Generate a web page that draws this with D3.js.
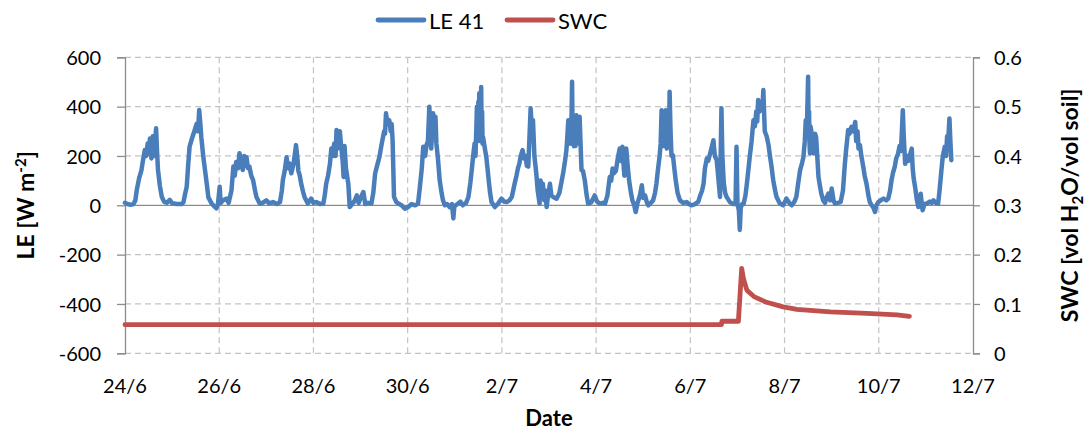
<!DOCTYPE html>
<html>
<head>
<meta charset="utf-8">
<script src="https://cdn.jsdelivr.net/npm/d3@7"></script>
<style>
  html, body { margin: 0; padding: 0; background: #fff; }
  svg text { font-family: Lato, "Open Sans", sans-serif; fill: #000; }
</style>
</head>
<body>
<svg id="chart" width="1089" height="433"></svg>
<script>
// Date ticks every two days, starting 24 June (x values are days since 24/6 00:00)
const dateTicks = [0, 2, 4, 6, 8, 10, 12, 14, 16, 18];
const dateLabels = ["24/6", "26/6", "28/6", "30/6", "2/7", "4/7", "6/7", "8/7", "10/7", "12/7"];
const leTicks = [-600, -400, -200, 0, 200, 400, 600];
const swcTicks = [0, 0.1, 0.2, 0.3, 0.4, 0.5, 0.6];

// Latent heat flux, LE 41 [W m-2]: [day, value]
const le41 = [
  [0.00, 10], [0.05, 5], [0.12, 2], [0.18, 5], [0.22, 20], [0.25, 62], [0.30, 110], [0.35, 143], [0.38, 180], [0.42, 224],
  [0.45, 200], [0.48, 250], [0.50, 210], [0.53, 271], [0.56, 190], [0.59, 280], [0.62, 200], [0.66, 312], [0.68, 220], [0.70, 143],
  [0.74, 80], [0.78, 35], [0.83, 15], [0.885, 10], [0.95, 22], [1.00, 8], [1.10, 5], [1.20, 5],
  [1.24, 12], [1.28, 50], [1.31, 75], [1.34, 160], [1.37, 237], [1.42, 270], [1.48, 305], [1.52, 330], [1.55, 300], [1.575, 386],
  [1.60, 330], [1.62, 276], [1.66, 200], [1.70, 140], [1.74, 80], [1.77, 32], [1.84, 7], [1.91, -7], [1.94, -12], [1.97, 0],
  [2.01, 75], [2.03, 10], [2.08, 20], [2.15, 27], [2.20, 10], [2.26, 60],
  [2.30, 157], [2.33, 120], [2.36, 176], [2.40, 150], [2.43, 211], [2.46, 180], [2.50, 143], [2.53, 200], [2.56, 160], [2.58, 195],
  [2.61, 150], [2.64, 157], [2.68, 120], [2.72, 101], [2.76, 60], [2.79, 34], [2.86, 7], [2.92, 10], [3.00, 20], [3.06, 8],
  [3.14, 13], [3.22, 5], [3.29, 13],
  [3.33, 60], [3.35, 101], [3.39, 140], [3.43, 195], [3.46, 150], [3.49, 170], [3.53, 130], [3.58, 170], [3.63, 244], [3.66, 190],
  [3.68, 140], [3.71, 120], [3.74, 87], [3.78, 55], [3.81, 34], [3.88, 7], [3.95, 27], [4.00, 10], [4.06, 13], [4.14, 5], [4.21, 7],
  [4.24, 40], [4.27, 87], [4.31, 120], [4.35, 168], [4.38, 230], [4.41, 200], [4.44, 250], [4.47, 200], [4.49, 305], [4.51, 230],
  [4.54, 240], [4.56, 300], [4.59, 236], [4.62, 180], [4.64, 115], [4.66, 240], [4.69, 150], [4.74, 87], [4.77, -7], [4.83, 7],
  [4.88, 20], [4.92, 40], [4.96, 10], [5.00, 30], [5.06, 54], [5.10, 5], [5.16, 10], [5.23, 7],
  [5.27, 50], [5.31, 130], [5.35, 160], [5.40, 195], [5.44, 240], [5.47, 270], [5.50, 300], [5.52, 290], [5.54, 373], [5.57, 330],
  [5.61, 345], [5.64, 300], [5.66, 330], [5.68, 265], [5.71, 34], [5.76, 13], [5.82, 5], [5.87, 0], [5.94, -14], [6.01, -7],
  [6.08, 5], [6.16, 0], [6.22, 7],
  [6.26, 75], [6.30, 150], [6.33, 237], [6.37, 200], [6.40, 244], [6.43, 260], [6.46, 400], [6.48, 300], [6.50, 230], [6.52, 300],
  [6.54, 373], [6.56, 300], [6.59, 359], [6.61, 250], [6.64, 195], [6.68, 101], [6.72, 50], [6.75, 20], [6.79, 0], [6.84, 5],
  [6.89, -7], [6.94, 5], [6.97, -53], [6.99, -5], [7.07, 7], [7.12, 15], [7.17, 0], [7.24, 10], [7.29, 34],
  [7.33, 90], [7.36, 143], [7.39, 200], [7.42, 250], [7.44, 200], [7.46, 330], [7.47, 400], [7.48, 260], [7.49, 300], [7.50, 420],
  [7.51, 280], [7.52, 454], [7.53, 300], [7.54, 350], [7.55, 260], [7.56, 480], [7.57, 300], [7.58, 380], [7.59, 250], [7.60, 276],
  [7.63, 240], [7.67, 195], [7.70, 140], [7.72, 101], [7.75, 50], [7.78, 13], [7.85, -7], [7.92, 7],
  [7.99, 27], [8.05, 15], [8.10, 13], [8.16, 20], [8.21, 34],
  [8.24, 60], [8.27, 87], [8.31, 120], [8.34, 150], [8.37, 168], [8.40, 200], [8.44, 224], [8.47, 190], [8.50, 200], [8.53, 160],
  [8.56, 157], [8.58, 250], [8.61, 393], [8.64, 300], [8.66, 345], [8.69, 200], [8.73, 130], [8.76, 60], [8.80, 7], [8.82, 101],
  [8.85, 60], [8.87, 87], [8.90, 20], [8.92, 60], [8.95, -7], [8.98, 40], [9.02, 87], [9.05, 40], [9.09, 34], [9.16, 27],
  [9.22, 50], [9.26, 90],
  [9.30, 130], [9.34, 180], [9.37, 224], [9.39, 280], [9.41, 345], [9.43, 260], [9.45, 330], [9.46, 250], [9.47, 290], [9.48, 380],
  [9.49, 501], [9.50, 300], [9.51, 360], [9.52, 250], [9.53, 240], [9.54, 340], [9.55, 300], [9.56, 240], [9.58, 365], [9.59, 250],
  [9.61, 280], [9.62, 350], [9.63, 300], [9.65, 359], [9.67, 250], [9.69, 143], [9.72, 140], [9.76, 101],
  [9.80, 40], [9.83, 7], [9.90, 13], [9.97, 40], [10.02, 15], [10.08, 7], [10.14, 10], [10.19, 7], [10.24, 40],
  [10.29, 115], [10.32, 100], [10.35, 149], [10.38, 130], [10.42, 140], [10.46, 190], [10.50, 230], [10.53, 180], [10.56, 237], [10.58, 170],
  [10.60, 120], [10.62, 200], [10.64, 230], [10.67, 160], [10.70, 101], [10.74, 50], [10.77, 20], [10.81, 0], [10.84, -27], [10.88, 10],
  [10.93, 40], [10.97, 81], [11.00, 30], [11.04, 40], [11.08, 10], [11.11, 0], [11.16, 10], [11.21, 20], [11.25, 50],
  [11.28, 87], [11.31, 140], [11.35, 203], [11.37, 250], [11.39, 385], [11.40, 260], [11.42, 300], [11.43, 240], [11.45, 370], [11.46, 250],
  [11.48, 385], [11.49, 260], [11.50, 230], [11.52, 300], [11.53, 250], [11.54, 380], [11.55, 280], [11.56, 460], [11.58, 300], [11.60, 200],
  [11.63, 203], [11.66, 150], [11.69, 101], [11.73, 50], [11.78, 20], [11.85, 10],
  [11.92, 13], [11.97, 5], [12.02, 0], [12.10, 5], [12.17, 15], [12.21, 40], [12.25, 60], [12.28, 87],
  [12.31, 150], [12.35, 190], [12.38, 180], [12.42, 210], [12.46, 240], [12.49, 264], [12.52, 200], [12.56, 183], [12.59, 120], [12.63, 34],
  [12.66, 393], [12.68, 200], [12.71, 90], [12.74, 50], [12.77, 34], [12.84, 13], [12.91, 5], [12.96, 5], [12.98, 237], [13.00, 5],
  [13.03, -20], [13.05, -100], [13.07, -10], [13.10, 5], [13.13, 5], [13.17, 40], [13.20, 87], [13.23, 140], [13.26, 195],
  [13.30, 260], [13.34, 345], [13.37, 320], [13.40, 380], [13.42, 340], [13.44, 427], [13.47, 380], [13.50, 410], [13.53, 400], [13.55, 467],
  [13.58, 300], [13.62, 280], [13.66, 244], [13.69, 200], [13.72, 162], [13.76, 101], [13.80, 60], [13.83, 34], [13.90, 7], [13.97, 0],
  [14.04, 27], [14.10, 10], [14.15, 0], [14.21, 15], [14.25, 34],
  [14.29, 90], [14.33, 143], [14.37, 170], [14.40, 195], [14.43, 260], [14.45, 345], [14.47, 280], [14.50, 521], [14.51, 300], [14.52, 380],
  [14.53, 250], [14.54, 210], [14.55, 320], [14.57, 300], [14.58, 230], [14.61, 276], [14.62, 210], [14.64, 220], [14.65, 290], [14.67, 276],
  [14.70, 180], [14.72, 115], [14.75, 80], [14.78, 47], [14.82, 20], [14.86, 10],
  [14.89, 30], [14.93, 47], [14.97, 20], [15.00, 68], [15.04, 20], [15.07, 7], [15.13, 10], [15.19, 13], [15.24, 60],
  [15.28, 168], [15.31, 230], [15.35, 305], [15.38, 290], [15.42, 318], [15.46, 300], [15.50, 338], [15.52, 260], [15.55, 300], [15.57, 230],
  [15.60, 244], [15.63, 200], [15.67, 157], [15.70, 120], [15.74, 87], [15.78, 40], [15.81, 13], [15.85, 0], [15.88, -7], [15.92, -27],
  [15.95, 0], [15.99, 13], [16.04, 20], [16.10, 27], [16.16, 20], [16.20, 27], [16.24, 60],
  [16.27, 101], [16.30, 130], [16.34, 157], [16.37, 190], [16.41, 210], [16.44, 240], [16.47, 220], [16.49, 300], [16.51, 385], [16.53, 280],
  [16.56, 168], [16.60, 200], [16.63, 180], [16.67, 210], [16.70, 230], [16.72, 150], [16.74, 110], [16.77, 75], [16.81, 20], [16.84, -7],
  [16.87, 10], [16.89, 47], [16.91, 10], [16.93, -20], [16.97, 5], [17.02, 7], [17.08, 15], [17.12, 10], [17.16, 20], [17.21, 10],
  [17.26, 7],
  [17.29, 60], [17.33, 143], [17.36, 200], [17.40, 237], [17.43, 200], [17.45, 280], [17.47, 250], [17.50, 352], [17.52, 260], [17.54, 183]
];

// Soil water content [vol H2O / vol soil]: [day, value]
const swc = [
  [0.00, 0.058], [12.66, 0.058], [12.67, 0.065], [13.02, 0.065], [13.09, 0.172], [13.13, 0.150], [13.20, 0.128], [13.35, 0.115],
  [13.60, 0.104], [13.97, 0.094], [14.26, 0.089], [14.97, 0.084], [15.75, 0.081], [16.39, 0.078], [16.65, 0.075]
];

const svg = d3.select("#chart");
const plotLeft = 125, plotRight = 973, plotTop = 57.3, plotBottom = 353.3;

const x = d3.scaleLinear().domain([0, 18]).range([plotLeft, plotRight]);
const yLE = d3.scaleLinear().domain([-600, 600]).range([plotBottom, plotTop]);
const ySWC = d3.scaleLinear().domain([0, 0.6]).range([plotBottom, plotTop]);

const gridColor = "#c3c3c3";
const axisColor = "#8c8c8c";
const tickFont = "20px";

// Gridlines
const grid = svg.append("g");
grid.selectAll(".hg").data(leTicks.filter(v => v !== 0)).join("line")
  .attr("x1", plotLeft).attr("x2", plotRight)
  .attr("y1", d => yLE(d)).attr("y2", d => yLE(d))
  .attr("stroke", gridColor).attr("stroke-width", 1.2).attr("stroke-dasharray", "6,4");
grid.selectAll(".vg").data(dateTicks.filter(d => d > 0 && d < 18)).join("line")
  .attr("x1", d => x(d)).attr("x2", d => x(d))
  .attr("y1", plotTop).attr("y2", plotBottom)
  .attr("stroke", gridColor).attr("stroke-width", 1.2).attr("stroke-dasharray", "6,4");

// Left axis (LE)
const axL = svg.append("g").attr("transform", `translate(${plotLeft},0)`)
  .call(d3.axisLeft(yLE).tickValues(leTicks).tickSize(8).tickPadding(16)
    .tickFormat(d => String(d)));
// Right axis (SWC)
const axR = svg.append("g").attr("transform", `translate(${plotRight},0)`)
  .call(d3.axisRight(ySWC).tickValues(swcTicks).tickSize(7).tickPadding(14)
    .tickFormat(d => d === 0 ? "0" : d3.format(".1f")(d)));
[axL, axR].forEach(g => {
  g.select(".domain").attr("stroke", axisColor).attr("stroke-width", 1.3);
  g.selectAll(".tick line").attr("stroke", axisColor).attr("stroke-width", 1.3);
  g.selectAll(".tick text").style("font-size", tickFont).attr("dy", "0.36em");
});

// Horizontal axis line crosses at LE = 0; date labels sit below the plot
svg.append("line")
  .attr("x1", plotLeft).attr("x2", plotRight)
  .attr("y1", yLE(0)).attr("y2", yLE(0))
  .attr("stroke", axisColor).attr("stroke-width", 1.3);
svg.append("g").selectAll("text").data(dateTicks).join("text")
  .attr("x", d => x(d)).attr("y", 393)
  .attr("text-anchor", "middle").style("font-size", tickFont)
  .text((d, i) => dateLabels[i]);

// Series
const lineLE = d3.line().x(d => x(d[0])).y(d => yLE(d[1]));
const lineSWC = d3.line().x(d => x(d[0])).y(d => ySWC(d[1]));
svg.append("path").datum(swc).attr("d", lineSWC)
  .attr("fill", "none").attr("stroke", "#C0504D").attr("stroke-width", 4.8)
  .attr("stroke-linejoin", "round").attr("stroke-linecap", "round");
svg.append("path").datum(le41).attr("d", lineLE)
  .attr("fill", "none").attr("stroke", "#4A7EBB").attr("stroke-width", 4.5)
  .attr("stroke-linejoin", "round").attr("stroke-linecap", "round");

// Axis titles
svg.append("text").attr("x", (plotLeft + plotRight) / 2).attr("y", 426)
  .attr("text-anchor", "middle").style("font-size", "22px").style("font-weight", "bold")
  .text("Date");
const yt = svg.append("text")
  .attr("transform", `translate(34,${(plotTop + plotBottom) / 2}) rotate(-90)`)
  .attr("text-anchor", "middle").style("font-size", "23px").style("font-weight", "bold");
yt.append("tspan").text("LE [W m");
yt.append("tspan").attr("dy", -8).style("font-size", "15px").text("-2");
yt.append("tspan").attr("dy", 8).text("]");
const yr = svg.append("text")
  .attr("transform", `translate(1078,${(plotTop + plotBottom) / 2}) rotate(-90)`)
  .attr("text-anchor", "middle").style("font-size", "23px").style("font-weight", "bold");
yr.append("tspan").text("SWC [vol H");
yr.append("tspan").attr("dy", 5).style("font-size", "15px").text("2");
yr.append("tspan").attr("dy", -5).text("O/vol soil]");

// Legend
const legend = [
  { name: "LE 41", color: "#4A7EBB", x: 378 },
  { name: "SWC", color: "#C0504D", x: 507 }
];
const lg = svg.append("g");
lg.selectAll("line").data(legend).join("line")
  .attr("x1", d => d.x).attr("x2", d => d.x + 46)
  .attr("y1", 20).attr("y2", 20)
  .attr("stroke", d => d.color).attr("stroke-width", 4.8).attr("stroke-linecap", "round");
lg.selectAll("text").data(legend).join("text")
  .attr("x", d => d.x + 51).attr("y", 29)
  .style("font-size", "22px")
  .text(d => d.name);
</script>
</body>
</html>
